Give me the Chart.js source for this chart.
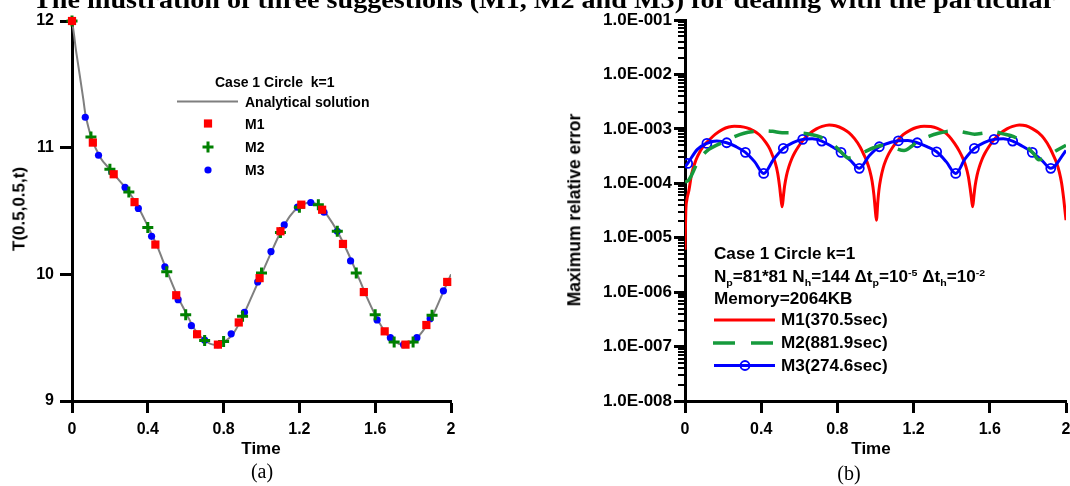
<!DOCTYPE html>
<html><head><meta charset="utf-8">
<script src="https://cdn.jsdelivr.net/npm/chart.js@4.4.1/dist/chart.umd.min.js"></script>
<style>
html,body{margin:0;padding:0;background:#fff;}
body{width:1070px;height:486px;position:relative;overflow:hidden;font-family:"Liberation Sans",Arial,sans-serif;color:#000;}
.t{position:absolute;white-space:nowrap;line-height:1;font-weight:bold;}
.c{transform:translate(-50%,-50%);}
.v{transform:translate(-50%,-50%) rotate(-90deg);}
.serif{font-family:"Liberation Serif","Times New Roman",serif;font-weight:normal;}
.lg{position:absolute;white-space:nowrap;font-weight:bold;line-height:1;transform-origin:0 50%;}
#title{position:absolute;left:33px;top:-13px;font-family:"Liberation Serif","Times New Roman",serif;font-weight:bold;font-size:25px;white-space:nowrap;line-height:1;transform-origin:0 0;}
sub,sup{font-size:0.62em;line-height:0;}
</style></head>
<body>
<canvas id="c1" width="540" height="486" style="position:absolute;left:0;top:0"></canvas>
<canvas id="c2" width="540" height="486" style="position:absolute;left:540px;top:0"></canvas>
<div id="title">The illustration of three suggestions (M1, M2 and M3) for dealing with the particular</div>

<div class="lg" style="left:215px;top:82px;font-size:14px;transform:translateY(-50%)">Case 1 Circle&nbsp;&nbsp;k=1</div>
<div class="lg" style="left:245px;top:101.5px;font-size:14px;transform:translateY(-50%)">Analytical solution</div>
<div class="lg" style="left:245px;top:123.5px;font-size:14px;transform:translateY(-50%)">M1</div>
<div class="lg" style="left:245px;top:147px;font-size:14px;transform:translateY(-50%)">M2</div>
<div class="lg" style="left:245px;top:170px;font-size:14px;transform:translateY(-50%)">M3</div>

<div class="t v" style="left:19px;top:209px;font-size:17px">T(0.5,0.5,t)</div>
<div class="t c" style="left:261px;top:448px;font-size:17px">Time</div>
<div class="t c serif" style="left:262px;top:471px;font-size:20px">(a)</div>

<div class="t v" style="left:575px;top:210px;font-size:17.5px">Maximum relative error</div>
<div class="t c" style="left:871px;top:448px;font-size:17px">Time</div>
<div class="t c serif" style="left:849px;top:473px;font-size:20px">(b)</div>

<div class="lg" style="left:714px;top:254px;font-size:16px;transform:translateY(-50%) scaleX(1.07)">Case 1 Circle k=1</div>
<div class="lg" style="left:714px;top:276.5px;font-size:16px;transform:translateY(-50%) scaleX(1.07)">N<sub>p</sub>=81*81 N<sub>h</sub>=144 &Delta;t<sub>p</sub>=10<sup>-5</sup> &Delta;t<sub>h</sub>=10<sup>-2</sup></div>
<div class="lg" style="left:714px;top:298.5px;font-size:16px;transform:translateY(-50%) scaleX(1.07)">Memory=2064KB</div>
<div class="lg" style="left:781px;top:320px;font-size:16px;transform:translateY(-50%) scaleX(1.07)">M1(370.5sec)</div>
<div class="lg" style="left:781px;top:343px;font-size:16px;transform:translateY(-50%) scaleX(1.07)">M2(881.9sec)</div>
<div class="lg" style="left:781px;top:365.5px;font-size:16px;transform:translateY(-50%) scaleX(1.07)">M3(274.6sec)</div>

<script>
// ---------- Panel (a) data ----------
const tAnalytic = [0,0.01,0.02,0.03,0.04,0.05,0.06,0.07,0.08,0.1,0.15,0.2,0.25,0.3,0.35,0.4,0.45,0.5,0.55,0.6,0.65,0.7,0.75,0.8,0.85,0.9,0.95,1.0,1.05,1.1,1.15,1.2,1.25,1.3,1.35,1.4,1.45,1.5,1.55,1.6,1.65,1.7,1.75,1.8,1.85,1.9,1.95,2.0];
const TAnalytic = [12.0,11.9,11.78,11.68,11.58,11.48,11.38,11.27,11.2,11.09,10.92,10.83,10.74,10.65,10.53,10.38,10.22,10.03,9.85,9.70,9.56,9.48,9.445,9.465,9.53,9.665,9.83,10.0,10.17,10.33,10.46,10.535,10.565,10.55,10.46,10.34,10.19,10.02,9.84,9.68,9.55,9.47,9.445,9.47,9.55,9.665,9.83,10.0];

const tM1 = [0,0.11,0.22,0.33,0.44,0.55,0.66,0.77,0.88,0.99,1.10,1.21,1.32,1.43,1.54,1.65,1.76,1.87,1.98];
const TM1 = [12.0,11.04,10.79,10.57,10.235,9.835,9.527,9.445,9.62,9.97,10.34,10.55,10.51,10.24,9.86,9.55,9.445,9.60,9.94];

const tM2 = [0,0.1,0.2,0.3,0.4,0.5,0.6,0.7,0.8,0.9,1.0,1.1,1.2,1.3,1.4,1.5,1.6,1.7,1.8,1.9];
const TM2 = [12.0,11.085,10.83,10.65,10.37,10.02,9.68,9.477,9.47,9.67,10.01,10.33,10.53,10.55,10.34,10.01,9.68,9.466,9.466,9.677];

const tM3 = [0,0.07,0.14,0.21,0.28,0.35,0.42,0.49,0.56,0.63,0.70,0.77,0.84,0.91,0.98,1.05,1.12,1.19,1.26,1.33,1.40,1.47,1.54,1.61,1.68,1.75,1.82,1.89,1.96];
const TM3 = [12.0,11.24,10.94,10.81,10.686,10.52,10.30,10.06,9.80,9.595,9.48,9.445,9.53,9.70,9.94,10.18,10.39,10.53,10.567,10.49,10.34,10.106,9.86,9.64,9.50,9.445,9.50,9.65,9.87];

const timeTickValues = [0,0.4,0.8,1.2,1.6,2];
const timeTickLabels = ['0','0.4','0.8','1.2','1.6','2'];
const tempTickValues = [9,10,11,12];
const tempTickLabels = ['9','10','11','12'];

// ---------- Panel (b) data ----------
const tErrM1 = [0,0.004,0.01,0.021,0.035,0.058,0.08,0.1,0.128,0.16,0.198,0.23,0.259,0.29,0.325,0.355,0.39,0.425,0.445,0.46,0.475,0.487,0.497,0.503,0.51,
 0.517,0.523,0.533,0.545,0.56,0.575,0.595,0.62,0.65,0.69,0.72,0.757,0.79,0.83,0.86,0.89,0.92,0.94,0.955,0.97,0.982,0.992,0.998,1.005,
 1.012,1.018,1.028,1.04,1.055,1.07,1.09,1.115,1.145,1.185,1.215,1.255,1.29,1.325,1.355,1.385,1.415,1.44,1.46,1.475,1.487,1.497,1.503,1.51,
 1.517,1.523,1.533,1.545,1.56,1.575,1.595,1.62,1.65,1.69,1.72,1.755,1.79,1.825,1.855,1.885,1.915,1.935,1.95,1.965,1.977,1.987,1.994,2.0];
const errM1 = [6e-6,3e-5,5e-5,7.5e-5,1.5e-4,2.7e-4,3.9e-4,5.0e-4,6.3e-4,8.0e-4,9.8e-4,1.08e-3,1.12e-3,1.1e-3,1.04e-3,9.4e-4,7.8e-4,5.6e-4,4.3e-4,3.2e-4,2.3e-4,1.5e-4,8.5e-5,5.5e-5,3.7e-5,
 6e-5,9e-5,1.4e-4,2.0e-4,2.8e-4,3.6e-4,4.7e-4,6.2e-4,8.0e-4,1.0e-3,1.11e-3,1.18e-3,1.14e-3,1.0e-3,8.5e-4,6.6e-4,4.6e-4,3.3e-4,2.5e-4,1.7e-4,1.1e-4,6e-5,3.5e-5,2.1e-5,
 4.5e-5,7.5e-5,1.25e-4,1.9e-4,2.7e-4,3.5e-4,4.6e-4,6.0e-4,7.8e-4,9.6e-4,1.06e-3,1.12e-3,1.1e-3,1.02e-3,9.0e-4,7.4e-4,5.4e-4,3.9e-4,2.8e-4,2.0e-4,1.35e-4,8e-5,5.5e-5,3.7e-5,
 6e-5,9e-5,1.4e-4,2.0e-4,2.8e-4,3.6e-4,4.7e-4,6.2e-4,8.0e-4,1.0e-3,1.11e-3,1.18e-3,1.14e-3,1.0e-3,8.5e-4,6.6e-4,4.5e-4,3.2e-4,2.4e-4,1.6e-4,1.0e-4,5.5e-5,3.3e-5,2.1e-5];

const tErrM2 = [0,0.02,0.063,0.09,0.125,0.175,0.222,0.26,0.31,0.36,0.416,0.46,0.51,0.565,0.62,0.66,0.706,0.75,0.8,0.835,0.857,0.9,0.945,0.99,1.04,1.095,1.15,1.19,1.23,1.28,1.33,1.37,1.416,1.47,1.52,1.57,1.62,1.67,1.725,1.76,1.795,1.83,1.857,1.9,1.95,2.0];
const errM2 = [1.05e-4,1.15e-4,2.3e-4,3.2e-4,4.2e-4,5.2e-4,6.2e-4,7.2e-4,8.3e-4,8.9e-4,9.2e-4,9.0e-4,8.5e-4,8.5e-4,8.3e-4,7.9e-4,7.2e-4,5.9e-4,4.4e-4,3.3e-4,2.9e-4,3.2e-4,3.8e-4,4.5e-4,5.0e-4,4.5e-4,4.0e-4,4.8e-4,6.2e-4,7.3e-4,8.3e-4,8.9e-4,9.2e-4,8.6e-4,8.0e-4,8.4e-4,8.8e-4,8.1e-4,7.2e-4,6.0e-4,4.7e-4,3.5e-4,2.7e-4,3.1e-4,4.0e-4,5.0e-4];

// M3: symbols (every 0.1) and the line between them
const tErrM3Mark = [0.014,0.115,0.219,0.317,0.413,0.516,0.618,0.718,0.819,0.915,1.02,1.12,1.219,1.321,1.421,1.519,1.622,1.72,1.823,1.92];
const errM3Mark  = [2.32e-4,5.41e-4,5.55e-4,3.70e-4,1.52e-4,4.38e-4,6.41e-4,5.96e-4,3.70e-4,1.88e-4,4.69e-4,6.04e-4,5.55e-4,3.79e-4,1.52e-4,4.38e-4,6.41e-4,5.96e-4,3.70e-4,1.88e-4];
const tErrM3Line = [0,0.065,0.167,0.268,0.365,0.465,0.567,0.668,0.768,0.867,0.967,1.07,1.17,1.27,1.371,1.47,1.57,1.671,1.771,1.871,2.0];
const errM3Line  = [2.0e-4,4.2e-4,5.96e-4,4.7e-4,2.5e-4,2.75e-4,5.6e-4,6.6e-4,4.8e-4,2.67e-4,3.2e-4,5.5e-4,6.1e-4,4.7e-4,2.5e-4,2.8e-4,5.6e-4,6.6e-4,4.8e-4,2.7e-4,4.0e-4];

const errTickValues = [1e-8,1e-7,1e-6,1e-5,1e-4,1e-3,1e-2,1e-1];
const errTickLabels = ['1.0E-008','1.0E-007','1.0E-006','1.0E-005','1.0E-004','1.0E-003','1.0E-002','1.0E-001'];

// ---------- helpers ----------
const pts = (xs, ys) => xs.map((x, i) => ({x, y: ys[i]}));
Chart.defaults.font.family = "'Liberation Sans', Arial, sans-serif";
Chart.defaults.color = '#000';

function axis(extra){
  return Object.assign({
    border:{display:true,color:'#000',width:3},
    grid:{display:true,drawOnChartArea:false,drawTicks:true,tickLength:12,tickWidth:3,tickColor:'#000'}
  }, extra);
}

// ---------- chart (a) ----------
const legendA = {
  id:'legendA',
  afterDraw(chart){
    const ctx = chart.ctx; ctx.save();
    ctx.strokeStyle = '#7f7f7f'; ctx.lineWidth = 2;
    ctx.beginPath(); ctx.moveTo(177,101.5); ctx.lineTo(238,101.5); ctx.stroke();
    ctx.fillStyle = '#ff0000';
    Chart.helpers.drawPoint(ctx,{pointStyle:'rect',radius:5.8,borderWidth:0,rotation:0},208,123.5);
    ctx.strokeStyle = '#008000'; ctx.lineWidth = 3;
    Chart.helpers.drawPoint(ctx,{pointStyle:'cross',radius:5.5,borderWidth:3,rotation:0},208,147);
    ctx.fillStyle = '#0000ff';
    Chart.helpers.drawPoint(ctx,{pointStyle:'circle',radius:3.6,borderWidth:0,rotation:0},208,170);
    ctx.restore();
  }
};

new Chart(document.getElementById('c1'), {
  type:'scatter',
  data:{datasets:[
    {label:'Analytical solution', data:pts(tAnalytic,TAnalytic), showLine:true, borderColor:'#7f7f7f', borderWidth:2, pointRadius:0, cubicInterpolationMode:'monotone', order:4},
    {label:'M3', data:pts(tM3,TM3), pointStyle:'circle', pointRadius:3.6, backgroundColor:'#0000ff', borderWidth:0, order:3, clip:false},
    {label:'M2', data:pts(tM2,TM2), pointStyle:'cross', pointRadius:5.5, borderColor:'#008000', backgroundColor:'#008000', borderWidth:3, order:2, clip:false},
    {label:'M1', data:pts(tM1,TM1), pointStyle:'rect', pointRadius:5.8, backgroundColor:'#ff0000', borderWidth:0, order:1, clip:false}
  ]},
  options:{
    responsive:false, animation:false, devicePixelRatio:1,
    layout:{padding:{left:0,top:21,right:89,bottom:0}},
    plugins:{legend:{display:false},tooltip:{enabled:false}},
    scales:{
      x:axis({type:'linear',min:0,max:2,
        afterBuildTicks:s=>{s.ticks=timeTickValues.map(v=>({value:v}));},
        afterFit:s=>{s.height=85;},
        ticks:{callback:(v,i)=>timeTickLabels[i],font:{size:16,weight:'bold'},color:'#000',padding:7,maxRotation:0,autoSkip:false}}),
      y:axis({type:'linear',min:9,max:12,
        afterBuildTicks:s=>{s.ticks=tempTickValues.map(v=>({value:v}));},
        afterFit:s=>{s.width=72;},
        ticks:{callback:(v,i)=>tempTickLabels[i],font:{size:16,weight:'bold'},color:'#000',padding:6,autoSkip:false}})
    }
  },
  plugins:[legendA]
});

// ---------- chart (b) ----------
const extrasB = {
  id:'extrasB',
  afterDraw(chart){
    const ctx = chart.ctx, ys = chart.scales.y, x0 = chart.chartArea.left;
    ctx.save();
    // minor log ticks
    ctx.strokeStyle = '#000'; ctx.lineWidth = 2; ctx.beginPath();
    for (let e = -8; e < -1; e++) for (let k = 2; k < 10; k++) {
      const py = Math.round(ys.getPixelForValue(k * Math.pow(10, e)));
      ctx.moveTo(x0 - 7, py); ctx.lineTo(x0, py);
    }
    ctx.stroke();
    // legend samples
    const ox = 540;
    ctx.lineWidth = 3; ctx.strokeStyle = '#ff0000';
    ctx.beginPath(); ctx.moveTo(714-ox,320); ctx.lineTo(775-ox,320); ctx.stroke();
    ctx.strokeStyle = '#169a3c'; ctx.lineWidth = 3.5; ctx.setLineDash([22,16]);
    ctx.beginPath(); ctx.moveTo(713-ox,343); ctx.lineTo(773-ox,343); ctx.stroke();
    ctx.setLineDash([]);
    ctx.strokeStyle = '#0000ff'; ctx.lineWidth = 3;
    ctx.beginPath(); ctx.moveTo(714-ox,365.5); ctx.lineTo(775-ox,365.5); ctx.stroke();
    ctx.lineWidth = 1.8; ctx.fillStyle = 'rgba(0,0,0,0)';
    Chart.helpers.drawPoint(ctx,{pointStyle:'circle',radius:4.5,borderWidth:1.8,rotation:0},745-ox,365.5);
    ctx.restore();
  }
};

new Chart(document.getElementById('c2'), {
  type:'scatter',
  data:{datasets:[
    {label:'M1(370.5sec)', data:pts(tErrM1,errM1), showLine:true, borderColor:'#ff0000', borderWidth:3, pointRadius:0, cubicInterpolationMode:'monotone', order:4},
    {label:'M3 line', data:pts(tErrM3Mark.concat(tErrM3Line),errM3Mark.concat(errM3Line)).sort((a,b)=>a.x-b.x), showLine:true, borderColor:'#0000ff', borderWidth:3, pointRadius:0, cubicInterpolationMode:'monotone', order:3},
    {label:'M3(274.6sec)', data:pts(tErrM3Mark,errM3Mark), pointStyle:'circle', pointRadius:4.5, borderColor:'#0000ff', backgroundColor:'rgba(0,0,0,0)', borderWidth:1.8, order:2},
    {label:'M2(881.9sec)', data:pts(tErrM2,errM2), showLine:true, borderColor:'#169a3c', borderWidth:3.5, borderDash:[20,15], pointRadius:0, cubicInterpolationMode:'monotone', order:1}
  ]},
  options:{
    responsive:false, animation:false, devicePixelRatio:1,
    layout:{padding:{left:0,top:20,right:14,bottom:0}},
    plugins:{legend:{display:false},tooltip:{enabled:false}},
    scales:{
      x:axis({type:'linear',min:0,max:2,
        afterBuildTicks:s=>{s.ticks=timeTickValues.map(v=>({value:v}));},
        afterFit:s=>{s.height=85;},
        ticks:{callback:(v,i)=>timeTickLabels[i],font:{size:16,weight:'bold'},color:'#000',padding:7,maxRotation:0,autoSkip:false}}),
      y:axis({type:'logarithmic',min:1e-8,max:1e-1,
        afterBuildTicks:s=>{s.ticks=errTickValues.map(v=>({value:v}));},
        afterFit:s=>{s.width=145;},
        grid:{display:true,drawOnChartArea:false,drawTicks:true,tickLength:11,tickWidth:3,tickColor:'#000'},
        ticks:{callback:(v,i)=>errTickLabels[i],font:{size:17,weight:'bold'},color:'#000',padding:2,autoSkip:false}})
    }
  },
  plugins:[extrasB]
});

// fit the (partially visible) caption to its width in the reference
const title = document.getElementById('title');
const w = title.getBoundingClientRect().width;
title.style.transform = 'scaleX(' + (1022 / w) + ')';
</script>
</body></html>
